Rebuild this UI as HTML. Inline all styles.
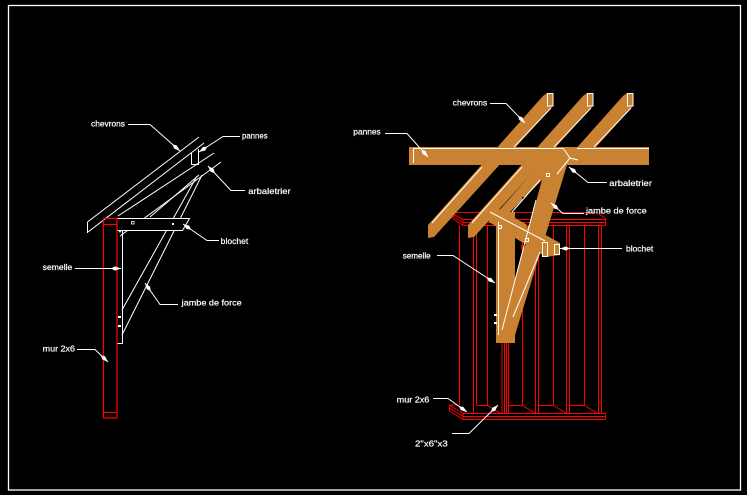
<!DOCTYPE html>
<html><head><meta charset="utf-8"><style>
html,body{margin:0;padding:0;background:#000;}
svg{display:block;}
text{font-family:"Liberation Sans",sans-serif;font-size:8.5px;fill:#fff;stroke:#fff;stroke-width:0.2;}
</style></head><body>
<svg width="747" height="495" viewBox="0 0 747 495" xmlns="http://www.w3.org/2000/svg">
<defs>
<marker id="ar" markerUnits="userSpaceOnUse" markerWidth="11" markerHeight="6" refX="10" refY="3" orient="auto">
<path d="M0,3 L4,0.9 L10,3 L4,5.1 z" fill="#fff"/>
</marker>
<clipPath id="gap1"><path d="M522,197 L537,197 L527,228 Z"/></clipPath>
<clipPath id="gap2"><path d="M515,244 L526,244 L515,268 Z"/></clipPath>
</defs>
<rect width="747" height="495" fill="#000"/>
<rect x="8.5" y="5.5" width="732" height="484.5" fill="none" stroke="#fff" stroke-width="1.3"/>

<!-- ================= LEFT DRAWING ================= -->
<g stroke="#fff" stroke-width="1" fill="none">
  <path d="M87.5,222 L87.5,233"/>
  <path d="M87.5,222 L199,137"/>
  <path d="M88,232 L204,143"/>
  <path d="M191.5,153 V164.5 H198.5 V149"/>
  <path d="M118,216 L214,153"/>
  <path d="M120,236 L221,162"/>
  <path d="M150,217 L199,175"/>
  <path d="M122,310 L197,176"/>
  <path d="M122,335 L202,175"/>
  <path d="M122.5,230 V343.5 H117"/>
</g>
<path d="M117,218.5 H189.5 L182.5,230.5 H117" fill="#000" stroke="#fff" stroke-width="1"/>
<rect x="131.5" y="221.5" width="2.5" height="2.5" fill="none" stroke="#fff" stroke-width="0.8"/>
<rect x="172" y="223" width="2" height="2" fill="#fff"/>
<rect x="118" y="316" width="3" height="2" fill="#fff"/>
<rect x="118" y="325" width="3" height="2" fill="#fff"/>
<path d="M118,230 L122,230 L120,233 Z" fill="#fff"/>
<g stroke="#f00" stroke-width="1.2" fill="none">
  <rect x="103.5" y="218.5" width="13.5" height="199.5"/>
  <path d="M103.5,224.5 H117 M103.5,412.5 H117"/>
</g>

<g stroke="#fff" stroke-width="1" fill="none" marker-end="url(#ar)">
  <path d="M128,124.5 H150 L180,151"/>
  <path d="M240,136.5 H223 L199,152"/>
  <path d="M245,190.5 H231 L208,166"/>
  <path d="M219,240.5 H207 L183,224"/>
  <path d="M75,268.5 H121"/>
  <path d="M178,304.5 H160 L145,283"/>
  <path d="M77,349.5 H95 L108,362"/>
</g>
<text x="91" y="126.7" textLength="34" lengthAdjust="spacingAndGlyphs">chevrons</text>
<text x="242" y="138.3" textLength="25.6" lengthAdjust="spacingAndGlyphs">pannes</text>
<text x="248.3" y="194" textLength="42.4" lengthAdjust="spacingAndGlyphs">arbaletrier</text>
<text x="220.7" y="244" textLength="27.6" lengthAdjust="spacingAndGlyphs">blochet</text>
<text x="42.7" y="270" textLength="29.6" lengthAdjust="spacingAndGlyphs">semelle</text>
<text x="181.7" y="305.5" textLength="60" lengthAdjust="spacingAndGlyphs">jambe de force</text>
<text x="42.7" y="351.7" textLength="32.3" lengthAdjust="spacingAndGlyphs">mur 2x6</text>

<!-- ================= RIGHT DRAWING ================= -->
<g id="wall" stroke="#f00" stroke-width="1" fill="none">
  <path d="M450,212.5 H597 L605.5,218.5"/>
  <path d="M450,212.5 V216.5"/>
  <path d="M450,212.5 L463,219.5 M450,214.5 L463,222.5 M450,216.5 L463,225.5"/>
  <path d="M463,219.5 H605.5 M463,222.5 H605.5 M463,225.5 H605.5"/>
  <path d="M463,219.5 V225.5 M605.5,218.5 V225.5"/>
  <path d="M459.5,225 V405 M473.5,225 V413 M476.5,225 V405 M487.5,225 V405"/>
  <path d="M502,343 V413 M504.5,343 V413 M506.5,343 V413 M508.5,343 V413"/>
  <path d="M522.5,225 V405 M535.5,225 V413 M538.5,225 V413 M553.5,225 V405"/>
  <path d="M566.5,225 V413 M569.5,225 V413 M584.5,225 V405 M598.5,225 V413 M601.5,225 V413"/>
  <path d="M476.5,405.5 H487.5 L500,413 M509,405.5 H522.5 L535,413 M539,405.5 H553.5 L566,413 M569.5,405.5 H584.5 L597,413"/>
  <path d="M463,413.5 H605.5 M463,416.5 H605.5 M463,419.5 H605.5"/>
  <path d="M463,413.5 V419.5 M605.5,413.5 V419.5"/>
  <path d="M449.5,405 L463,413.5 M449.5,408 L463,416.5 M449.5,411 L463,419.5 M449.5,405 V411 M449.5,405 H459.5"/>
</g>

<g fill="#c98232">
  <path d="M428,225 L543,96 L547,93 L553,93 L553,106 L434,237 L428,238 Z"/>
  <path d="M468,225 L583,96 L587,93 L593,93 L593,106 L474,237 L468,238 Z"/>
  <path d="M577.5,147 L623,96 L627,93 L633,93 L633,106 L596,147 Z"/>
  <rect x="409" y="147" width="240" height="18"/>
  <path d="M539,165 L557,165 L508,214 L496,214 Z"/>
  <path d="M546,165 L567,165 L515,335 L500,335 Z"/>
  <rect x="496" y="212" width="19" height="131"/>
  <path d="M486,210 L497,208 L560,243 L560,255 L546,257 L489,222 Z"/>
</g>
<path d="M522,197 L537,197 L527,228 Z" fill="#000"/>
<path d="M515,244 L526,244 L515,268 Z" fill="#000"/>
<use href="#wall" clip-path="url(#gap1)"/>
<use href="#wall" clip-path="url(#gap2)"/>

<g stroke="#fff" stroke-width="1" fill="none">
  <rect x="547.5" y="93.5" width="5.5" height="12.5"/>
  <rect x="587.5" y="93.5" width="5.5" height="12.5"/>
  <rect x="627.5" y="93.5" width="5.5" height="12.5"/>
  <path d="M551,108 L514,147"/>
  <path d="M591,108 L554,147"/>
  <path d="M631,108 L594,147"/>
  <path d="M482,167 L432,223"/>
  <path d="M522,167 L472,223"/>
  <path d="M413,148.5 H563 M577,148.5 H649"/>
  <path d="M413.5,148.5 V163"/>
  <path d="M563,148 L570,158 L578,160 M570,158 L557,174"/>
  <path d="M498.5,222 V335"/>
  <path d="M502,330 L536,200"/>
  <path d="M513,317 L540,252"/>
  <path d="M490,212 L545,241"/>
  <path d="M540,180 L512,212"/>
  <rect x="542.5" y="242.5" width="5" height="14" fill="#c98232"/>
  <rect x="554.5" y="244.5" width="5" height="10" fill="#c98232"/>
  <rect x="546.5" y="173.5" width="3" height="3"/>
  <rect x="498.5" y="225.5" width="3" height="3"/>
  <rect x="525.5" y="238.5" width="3" height="3"/>
</g>
<rect x="494" y="314" width="3" height="2" fill="#fff"/>
<rect x="494" y="322" width="3" height="2" fill="#fff"/>
<rect x="521" y="245" width="1.5" height="4" fill="#f00"/>

<g stroke="#fff" stroke-width="1" fill="none" marker-end="url(#ar)">
  <path d="M490,103.5 H506 L525,123"/>
  <path d="M385,133.5 H407 L428,157"/>
  <path d="M607,182.5 H588 L569,167"/>
  <path d="M584,213.5 H563 L551,203"/>
  <path d="M622,248.5 H560"/>
  <path d="M437,255.5 H453 L495,283"/>
  <path d="M433,398.5 H448 L467,412"/>
  <path d="M452,433.5 H469 L498,405"/>
</g>
<text x="452.7" y="105.7" textLength="34.6" lengthAdjust="spacingAndGlyphs">chevrons</text>
<text x="353.3" y="134.3" textLength="27.4" lengthAdjust="spacingAndGlyphs">pannes</text>
<text x="609.3" y="186" textLength="42.7" lengthAdjust="spacingAndGlyphs">arbaletrier</text>
<text x="586" y="213.5" textLength="60.7" lengthAdjust="spacingAndGlyphs">jambe de force</text>
<text x="626" y="251.7" textLength="27.3" lengthAdjust="spacingAndGlyphs">blochet</text>
<text x="402.7" y="258.3" textLength="28" lengthAdjust="spacingAndGlyphs">semelle</text>
<text x="396.7" y="402.3" textLength="32.6" lengthAdjust="spacingAndGlyphs">mur 2x6</text>
<text x="415" y="446.7" textLength="32.7" lengthAdjust="spacingAndGlyphs">2&quot;x6&quot;x3</text>
</svg>
</body></html>
